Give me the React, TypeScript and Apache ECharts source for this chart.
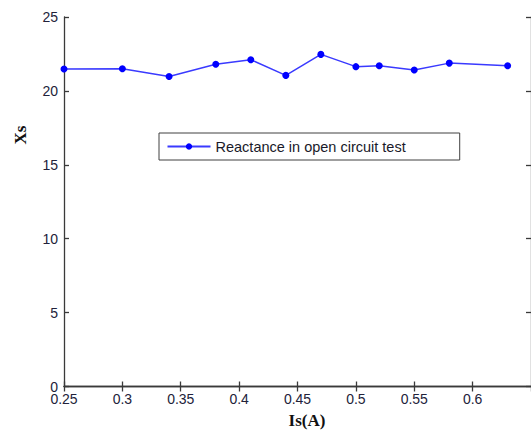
import React, { useEffect, useRef } from "react";
import * as echarts from "echarts";

// Stator current (A) and measured synchronous reactance
const currents = [0.25, 0.3, 0.34, 0.38, 0.41, 0.44, 0.47, 0.5, 0.52, 0.55, 0.58, 0.63];
const reactance = [21.48, 21.5, 20.98, 21.8, 22.11, 21.05, 22.47, 21.64, 21.7, 21.41, 21.88, 21.7];
const seriesName = "Reactance in open circuit test";
const xTitle = "Is(A)";
const yTitle = "Xs";

const AXIS_COLOR = "#3a3a3a";
const LABEL_COLOR = "#22223a";
const SANS = "Arial, 'Liberation Sans', sans-serif";
const SERIF = "'Times New Roman', 'Liberation Serif', serif";

export default function App() {
  const ref = useRef<HTMLDivElement>(null);

  useEffect(() => {
    if (!ref.current) return;
    const chart = echarts.init(ref.current, null, { renderer: "svg" });

    const axisLine = { show: true, lineStyle: { color: AXIS_COLOR, width: 1.3 } };
    const tick = { show: true, inside: true, length: 5, lineStyle: { color: AXIS_COLOR, width: 1.3 } };

    chart.setOption({
      animation: false,
      backgroundColor: "#ffffff",
      grid: { left: 64, top: 17, width: 468, height: 369.5 },
      legend: {
        left: 159,
        top: 133,
        orient: "horizontal",
        data: [seriesName],
        itemWidth: 43,
        itemHeight: 8,
        itemGap: 5,
        padding: [6, 54, 6, 7.5],
        borderColor: "#404040",
        borderWidth: 1,
        backgroundColor: "#ffffff",
        textStyle: { fontFamily: SANS, fontSize: 14.5, color: "#1a1a2a" },
      },
      xAxis: [
        {
          type: "value",
          min: 0.25,
          max: 0.65,
          interval: 0.05,
          position: "bottom",
          axisLine,
          axisTick: tick,
          splitLine: { show: false },
          axisLabel: {
            showMaxLabel: false,
            margin: 5,
            fontFamily: SANS,
            fontSize: 14,
            color: LABEL_COLOR,
            formatter: (v: number) => String(+v.toFixed(2)),
          },
        },
        {
          type: "value",
          min: 0.25,
          max: 0.65,
          interval: 0.05,
          position: "top",
          axisLine,
          axisTick: tick,
          splitLine: { show: false },
          axisLabel: { show: false },
        },
      ],
      yAxis: [
        {
          type: "value",
          min: 0,
          max: 25,
          interval: 5,
          position: "left",
          axisLine,
          axisTick: tick,
          splitLine: { show: false },
          axisLabel: { margin: 6, fontFamily: SANS, fontSize: 14, color: LABEL_COLOR },
        },
        {
          type: "value",
          min: 0,
          max: 25,
          interval: 5,
          position: "right",
          axisLine,
          axisTick: tick,
          splitLine: { show: false },
          axisLabel: { show: false },
        },
      ],
      series: [
        {
          name: seriesName,
          type: "line",
          data: currents.map((c, i) => [c, reactance[i]]),
          symbol: "circle",
          symbolSize: 7,
          showAllSymbol: true,
          lineStyle: { color: "#3a3aff", width: 1.5 },
          itemStyle: { color: "#0000ff" },
        },
      ],
      graphic: [
        {
          type: "text",
          x: 20,
          y: 135,
          rotation: Math.PI / 2,
          style: {
            text: yTitle,
            font: `bold 17px ${SERIF}`,
            fill: "#111111",
            align: "center",
            verticalAlign: "middle",
          },
        },
        {
          type: "text",
          x: 307,
          y: 420,
          style: {
            text: xTitle,
            font: `bold 17px ${SERIF}`,
            fill: "#111111",
            align: "center",
            verticalAlign: "middle",
          },
        },
      ],
    });

    return () => chart.dispose();
  }, []);

  return (
    <div
      ref={ref}
      style={{ position: "fixed", left: 0, top: 0, width: 531, height: 430 }}
    />
  );
}
